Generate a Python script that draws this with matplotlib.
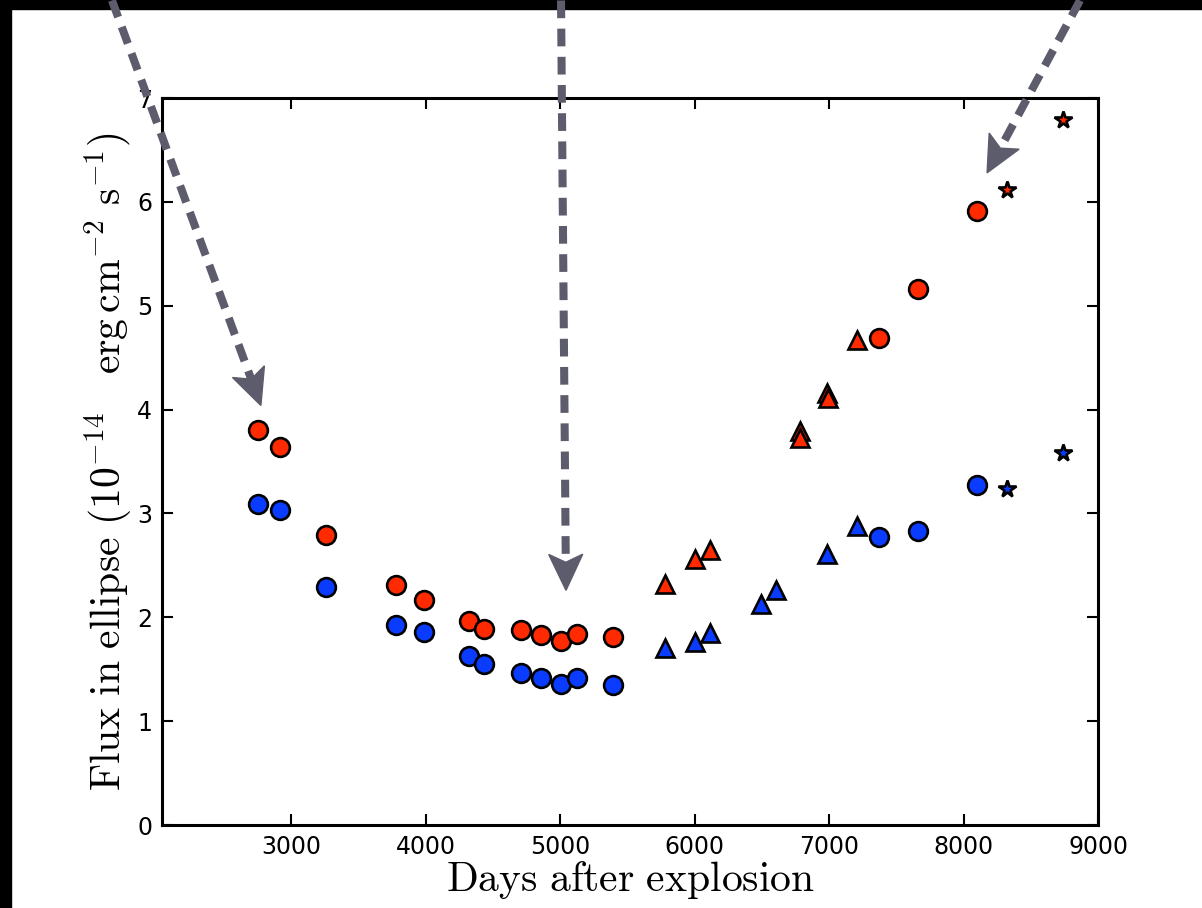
import matplotlib
matplotlib.use("Agg")
import matplotlib.pyplot as plt
from matplotlib.patches import Rectangle, Polygon
import numpy as np

plt.rcParams['mathtext.fontset'] = 'cm'
plt.rcParams['font.family'] = 'DejaVu Sans'

red = "#ff2a00"
blue = "#0a3cff"
arrow_color = "#5d5c6c"

# circles (red = upper band, blue = lower band)
days_circ = [2755, 2918, 3260, 3781, 3989, 4323, 4435, 4710, 4859, 5007, 5126, 5394,
             7372, 7662, 8100]
red_circ = [3.80, 3.64, 2.79, 2.31, 2.17, 1.96, 1.89, 1.88, 1.83, 1.77, 1.84, 1.81,
            4.69, 5.16, 5.91]
blue_circ = [3.09, 3.03, 2.29, 1.93, 1.86, 1.63, 1.55, 1.46, 1.42, 1.36, 1.42, 1.35,
             2.77, 2.83, 3.27]

# triangles
days_tri_red = [5781, 6004, 6115, 6785, 6785, 6985, 6995, 7208]
red_tri = [2.32, 2.56, 2.65, 3.79, 3.73, 4.16, 4.11, 4.67]
days_tri_blue = [5781, 6004, 6115, 6494, 6606, 6985, 7208]
blue_tri = [1.70, 1.76, 1.85, 2.13, 2.26, 2.61, 2.88]

# stars
days_star = [8323, 8740]
red_star = [6.11, 6.79]
blue_star = [3.24, 3.58]

# dashed arrows (start, tip) in data coords
arrows = [((1668, 7.94), (2775, 4.04)),
          ((5007, 7.94), (5044, 2.26)),
          ((8866, 7.94), (8175, 6.28))]

fig = plt.figure(figsize=(12.02, 9.08), dpi=100)
ax = fig.add_axes([0.1348, 0.0914, 0.7787, 0.8006])

ms_c = 13.5
ew = 1.9
ax.plot(days_circ, red_circ, 'o', ms=ms_c, mfc=red, mec='black', mew=ew, zorder=3)
ax.plot(days_circ, blue_circ, 'o', ms=ms_c, mfc=blue, mec='black', mew=ew, zorder=3)
ax.plot(days_tri_red, red_tri, '^', ms=13, mfc=red, mec='black', mew=ew, zorder=3)
ax.plot(days_tri_blue, blue_tri, '^', ms=13, mfc=blue, mec='black', mew=ew, zorder=3)
ax.plot(days_star, red_star, '*', ms=13, mfc=red, mec='black', mew=ew, zorder=3)
ax.plot(days_star, blue_star, '*', ms=13, mfc=blue, mec='black', mew=ew, zorder=3)

ax.set_xlim(2040, 9000)
ax.set_ylim(0, 7)
ax.set_xticks([3000, 4000, 5000, 6000, 7000, 8000, 9000])
ax.set_yticks(range(0, 8))
ax.tick_params(direction='in', length=8, width=1.5, top=True, right=True,
               labelsize=17, pad=7)
for s in ax.spines.values():
    s.set_linewidth(2.2)

ax.set_xlabel(r'$\mathrm{Days\ after\ explosion}$', fontsize=30, labelpad=0)
ax.set_ylabel(r'$\mathrm{Flux\ in\ ellipse\ (10^{-14}\quad erg\,cm^{-2}\ s^{-1})}$',
              fontsize=30, labelpad=2)

# black strips along top and left edge
fig.patches.append(Rectangle((0, 1 - 9 / 908), 1, 9 / 908, transform=fig.transFigure,
                             color='black', zorder=0))
fig.patches.append(Rectangle((0, 0), 11 / 1202, 1, transform=fig.transFigure,
                             color='black', zorder=0))

# arrows: dashed shaft + notched head, built in pixel space
to_fig = fig.transFigure.inverted()
for start, tip in arrows:
    p0 = ax.transData.transform(start)
    p1 = ax.transData.transform(tip)
    d = (p1 - p0) / np.hypot(*(p1 - p0))
    n = np.array([-d[1], d[0]])
    notch = p1 - 28 * d
    shaft = to_fig.transform(np.array([p0, notch]))
    line = plt.Line2D(shaft[:, 0], shaft[:, 1], transform=fig.transFigure,
                      color=arrow_color, lw=5.8, dashes=(2.2, 1.3),
                      solid_capstyle='butt', dash_capstyle='butt', zorder=5)
    fig.lines.append(line)
    head = np.array([p1, p1 - 36 * d + 17 * n, notch, p1 - 36 * d - 17 * n])
    fig.patches.append(Polygon(to_fig.transform(head), closed=True,
                               transform=fig.transFigure, color=arrow_color,
                               zorder=6))

plt.savefig("out.png", dpi=100)
